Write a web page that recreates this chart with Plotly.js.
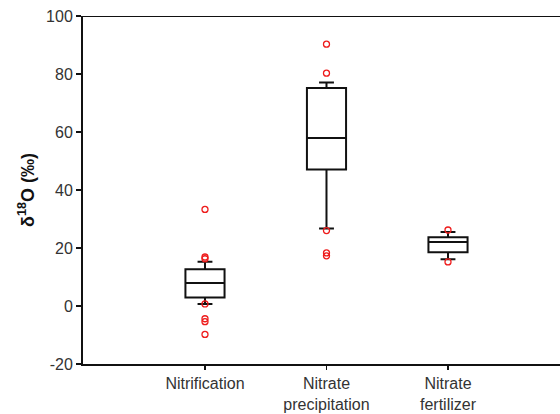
<!DOCTYPE html>
<html>
<head>
<meta charset="utf-8">
<script src="https://cdn.plot.ly/plotly-3.0.1.min.js"></script>
<style>html,body{margin:0;padding:0;background:#fff;overflow:hidden;width:560px;height:414px}#chart{width:600px;height:414px}</style>
</head>
<body>
<div id="chart"></div>
<script>
var categories = ['Nitrification', 'Nitrate<br>precipitation', 'Nitrate<br>fertilizer'];
var q1Values = [2.9, 47.1, 18.5];
var medianValues = [7.9, 57.9, 22.1];
var q3Values = [12.7, 75.2, 23.7];
var lowerFence = [0.7, 26.7, 16.1];
var upperFence = [15.3, 77.1, 25.5];
var outlierCategory = [
  'Nitrification','Nitrification','Nitrification','Nitrification','Nitrification','Nitrification','Nitrification',
  'Nitrate<br>precipitation','Nitrate<br>precipitation','Nitrate<br>precipitation','Nitrate<br>precipitation','Nitrate<br>precipitation',
  'Nitrate<br>fertilizer','Nitrate<br>fertilizer'
];
var outlierValues = [33.3, 16.9, 16.3, 0.7, -4.4, -5.4, -9.8,
  90.3, 80.3, 26.0, 18.3, 17.3,
  26.2, 15.2];
var yTickVals = [-20, 0, 20, 40, 60, 80, 100];
var yTickText = ['-20', '0', '20', '40', '60', '80', '100'];

var boxTrace = {
  type: 'box',
  x: categories,
  q1: q1Values,
  median: medianValues,
  q3: q3Values,
  lowerfence: lowerFence,
  upperfence: upperFence,
  boxpoints: false,
  fillcolor: 'rgba(0,0,0,0)',
  line: {color: '#111', width: 2},
  whiskerwidth: 0.38,
  hoverinfo: 'skip',
  showlegend: false
};
var outTrace = {
  type: 'scatter',
  mode: 'markers',
  x: outlierCategory,
  y: outlierValues,
  marker: {symbol: 'circle-open', color: '#ee1c1c', size: 6, line: {width: 1.3, color: '#ee1c1c'}},
  showlegend: false,
  hoverinfo: 'skip'
};

var layout = {
  width: 600, height: 414,
  margin: {l: 83, r: 0, t: 16, b: 50, pad: 0},
  paper_bgcolor: '#fff', plot_bgcolor: '#fff',
  font: {family: 'Liberation Sans, Arial, sans-serif', color: '#333'},
  boxgap: 0.54,
  showlegend: false,
  xaxis: {
    type: 'category',
    range: [-1.004, 3.251],
    tickmode: 'array', tickvals: categories, ticktext: categories,
    showline: true, linecolor: '#111', linewidth: 2,
    ticks: 'outside', ticklen: 4, tickwidth: 1.5, tickcolor: '#111',
    showgrid: false, zeroline: false,
    tickfont: {size: 16, color: '#333'}
  },
  yaxis: {
    range: [-20, 100], tickmode: 'array', tickvals: yTickVals, ticktext: yTickText,
    showline: true, linecolor: '#111', linewidth: 2,
    ticks: 'outside', ticklen: 5, tickwidth: 1.5, tickcolor: '#111',
    showgrid: false, zeroline: false,
    tickfont: {size: 16, color: '#333'},
    title: {text: '<b>δ<sup>18</sup>O (‰)</b>', font: {size: 18, color: '#111'}, standoff: 7}
  },
  shapes: [{
    type: 'line', xref: 'paper', yref: 'y', x0: -0.011, x1: 1, y0: 100, y1: 100,
    line: {color: '#111', width: 2}
  }]
};
Plotly.newPlot('chart', [boxTrace, outTrace], layout, {displayModeBar: false, staticPlot: true});
</script>
</body>
</html>
